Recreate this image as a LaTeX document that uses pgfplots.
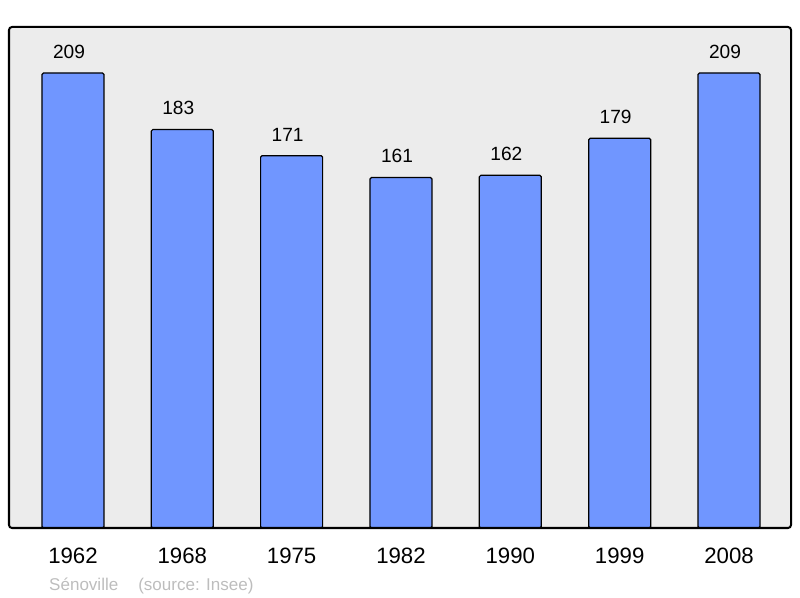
\documentclass[border=0pt]{standalone}
\usepackage{pgfplots}
\pgfplotsset{compat=1.18}
\usepackage{fontspec}
\setmainfont{Liberation Sans}
\definecolor{barblue}{HTML}{7096FF}
\definecolor{bggray}{HTML}{ECECEC}
\definecolor{footgray}{HTML}{BDBDBD}
\begin{document}
\begin{tikzpicture}
\useasboundingbox (-9bp,-70bp) rectangle (791bp,528bp);
\begin{axis}[
    at={(0,0)}, anchor=south west,
    scale only axis, width=782bp, height=501bp,
    xmin=-0.585, xmax=6.567, ymin=0, ymax=230.1,
    axis line style={draw=none},
    major tick length=0pt,
    ytick=\empty,
    xtick={0,1,2,3,4,5,6},
    xticklabels={1962,1968,1975,1982,1990,1999,2008},
    xticklabel style={font=\fontsize{22.3}{24}\selectfont, inner sep=0pt, anchor=north, yshift=-20bp},
    /pgf/number format/assume math mode=true,
    nodes near coords,
    every node near coord/.append style={font=\fontsize{19.2}{21}\selectfont, inner sep=0pt, anchor=south, yshift=14bp, xshift=-4bp, black},
    clip=false,
]
\fill[bggray, rounded corners=3bp] (rel axis cs:0,0) rectangle (rel axis cs:1,1);
\addplot[ybar, bar width=62bp, fill=barblue, draw=black, line width=1.2bp, rounded corners=1.5bp]
  coordinates {(0,209) (1,183) (2,171) (3,161) (4,162) (5,179) (6,209)};
\end{axis}
\draw[black, line width=2bp, rounded corners=3bp] (0,0) rectangle (782bp,501bp);
\node[anchor=base west, inner sep=0pt, text=footgray, font=\fontsize{17.1}{19}\selectfont]
  at (40bp,-62.7bp) {Sénoville\hspace{20bp}(source: Insee)};
\end{tikzpicture}
\end{document}
